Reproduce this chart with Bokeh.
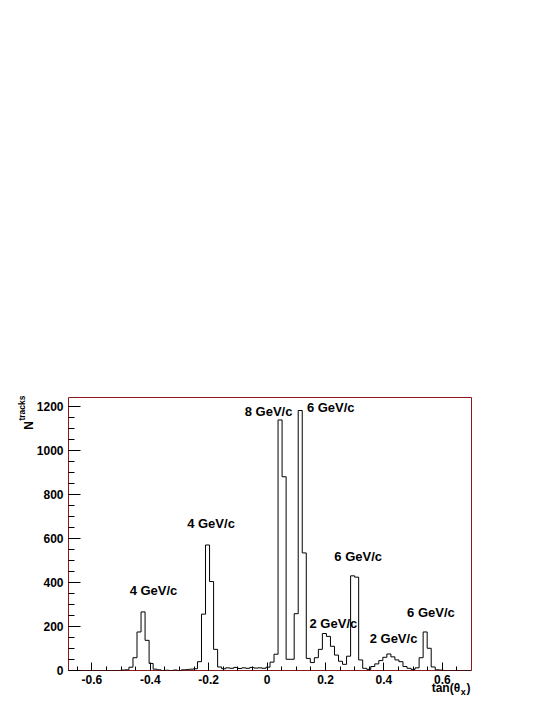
import numpy as np
from bokeh.plotting import figure
from bokeh.models import Range1d, FixedTicker, ColumnDataSource, LinearAxis
from bokeh.core.properties import value
from bokeh.embed import file_html
from bokeh.resources import INLINE

# ---------------- data ----------------
x_lo, x_hi = -0.68, 0.70
n_bins = 100
y_lo, y_hi = 0, 1240

counts = [
    0, 0, 0, 0, 0, 0, 0, 0, 0, 0,
    0, 0, 0, 2, 3, 15, 58, 175, 266, 137,
    32, 6, 3, 0, 1, 0, 2, 0, 3, 4,
    6, 8, 40, 256, 570, 404, 96, 16, 8, 12,
    10, 14, 9, 12, 10, 14, 11, 12, 10, 15,
    38, 74, 1138, 880, 51, 51, 258, 1181, 534, 55,
    36, 58, 96, 168, 155, 110, 70, 42, 28, 65,
    430, 424, 48, 10, 5, 18, 30, 45, 60, 75,
    62, 48, 40, 18, 10, 5, 12, 58, 175, 101,
    16, 3, 2, 0, 0, 0, 0, 0, 0, 0,
]

x_ticks = [-0.6, -0.4, -0.2, 0, 0.2, 0.4, 0.6]
x_tick_labels = ["-0.6", "-0.4", "-0.2", "0", "0.2", "0.4", "0.6"]
y_ticks = [0, 200, 400, 600, 800, 1000, 1200]
y_tick_labels = ["0", "200", "400", "600", "800", "1000", "1200"]

label_text = ["4 GeV/c", "4 GeV/c", "8 GeV/c", "6 GeV/c",
              "2 GeV/c", "6 GeV/c", "2 GeV/c", "6 GeV/c"]
label_x = [-0.389, -0.192, 0.005, 0.218, 0.227, 0.312, 0.433, 0.561]
label_y = [362, 667, 1176, 1194, 214, 516, 146, 265]

# axis titles (main part, subscript, closing) and where along the axis they sit
x_title_parts = ["tan(θ", ")"]
x_title_pos = [0.6124, 0.6897]
x_title_sub = "x"
x_title_sub_pos = 0.6716
y_title = "N"
y_title_pos = 1113
y_title_sub = "tracks"
y_title_sub_pos = 1192

FONT = "Liberation Sans"
FRAME_COLOR = "#8b1a1a"

# ---------------- figure ----------------
p = figure(frame_width=403, frame_height=273, output_backend="svg",
           toolbar_location=None,
           x_range=Range1d(x_lo, x_hi), y_range=Range1d(y_lo, y_hi),
           min_border_left=68, min_border_right=66, min_border_top=397,
           min_border_bottom=27)
p.background_fill_color = "white"
p.border_fill_color = "white"
p.outline_line_color = FRAME_COLOR
p.outline_line_width = 1
p.xgrid.visible = False
p.ygrid.visible = False

edges = x_lo + (x_hi - x_lo) / n_bins * np.arange(n_bins + 1)
step_y = list(counts) + [counts[-1]]
p.step(x=edges, y=step_y, mode="after", line_color="black", line_width=1)

src = ColumnDataSource(dict(x=label_x, y=label_y, text=label_text))
p.text(x="x", y="y", text="text", source=src, text_align="center",
       text_baseline="middle", text_font=value(FONT), text_font_style="bold",
       text_font_size="13px", text_color="black")


def style_labels(ax, size):
    ax.major_label_text_font = FONT
    ax.major_label_text_font_style = "bold"
    ax.major_label_text_font_size = size
    ax.major_label_text_color = "black"


def text_axis(ax):
    ax.axis_line_color = None
    ax.major_tick_line_color = None
    ax.minor_tick_line_color = None
    ax.major_tick_in = 0
    ax.major_tick_out = 0


xa = p.xaxis[0]
xa.ticker = FixedTicker(ticks=x_ticks,
                        minor_ticks=list(np.round(np.arange(x_lo + 0.03, x_hi, 0.05), 2)))
xa.major_label_overrides = {t: l for t, l in zip(x_ticks, x_tick_labels)}
xa.axis_line_color = None
xa.major_tick_in = 8
xa.major_tick_out = 0
xa.minor_tick_in = 4
xa.minor_tick_out = 0
xa.major_label_standoff = 4
style_labels(xa, "12px")

ya = p.yaxis[0]
ya.ticker = FixedTicker(ticks=y_ticks, minor_ticks=list(range(0, 1250, 50)))
ya.major_label_overrides = {t: l for t, l in zip(y_ticks, y_tick_labels)}
ya.axis_line_color = None
ya.major_tick_in = 12
ya.major_tick_out = 0
ya.minor_tick_in = 6
ya.minor_tick_out = 0
ya.major_label_standoff = 5
style_labels(ya, "12px")

# x title: "tan(θ" and ")" on one extra axis, subscript on another
xt = LinearAxis(ticker=FixedTicker(ticks=x_title_pos, minor_ticks=[]),
                major_label_overrides={t: l for t, l in zip(x_title_pos, x_title_parts)})
text_axis(xt)
xt.major_label_standoff = -6
style_labels(xt, "12px")
p.add_layout(xt, "below")

xs = LinearAxis(ticker=FixedTicker(ticks=[x_title_sub_pos], minor_ticks=[]),
                major_label_overrides={x_title_sub_pos: x_title_sub})
text_axis(xs)
xs.major_label_standoff = -11
style_labels(xs, "9px")
p.add_layout(xs, "below")

# y title: "N" and subscript "tracks"
yt = LinearAxis(ticker=FixedTicker(ticks=[y_title_pos], minor_ticks=[]),
                major_label_overrides={y_title_pos: y_title},
                major_label_orientation="vertical")
text_axis(yt)
yt.major_label_standoff = -3
style_labels(yt, "12px")
p.add_layout(yt, "left")

ys = LinearAxis(ticker=FixedTicker(ticks=[y_title_sub_pos], minor_ticks=[]),
                major_label_overrides={y_title_sub_pos: y_title_sub},
                major_label_orientation="vertical")
text_axis(ys)
ys.major_label_standoff = -8
style_labels(ys, "8.5px")
p.add_layout(ys, "left")

open("out.html", "w").write(file_html(p, INLINE))
